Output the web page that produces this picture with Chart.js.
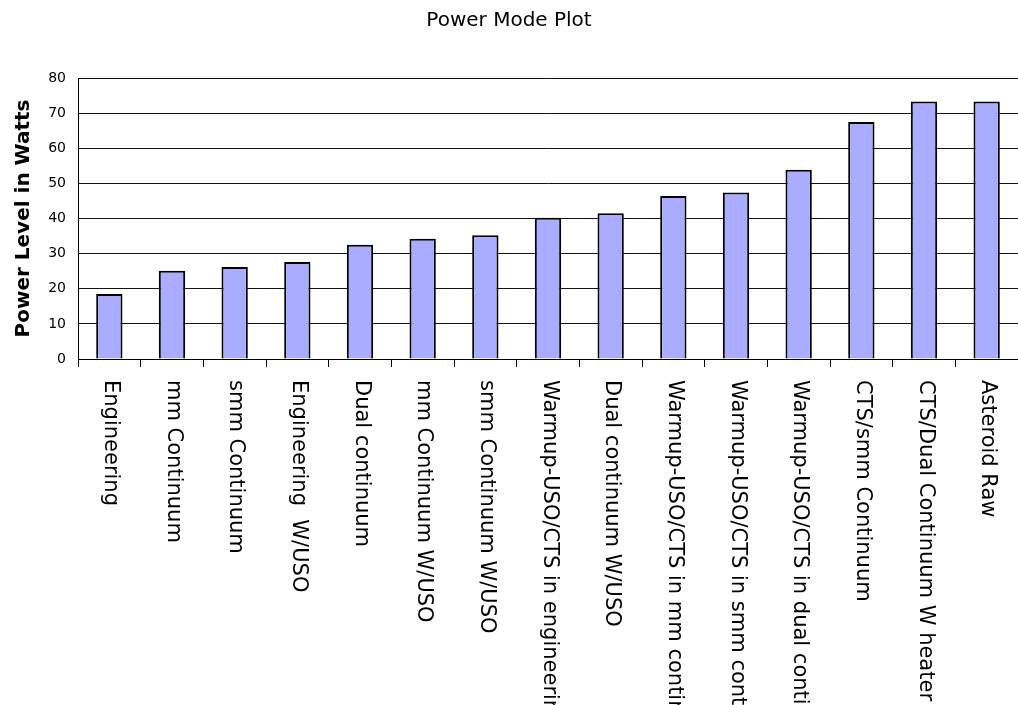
<!DOCTYPE html>
<html>
<head>
<meta charset="utf-8">
<script src="https://cdn.jsdelivr.net/npm/chart.js@4"></script>
<style>
  body { margin: 0; background: #fff; }
  #wrap { width: 1018px; height: 705px; }
</style>
</head>
<body>
<div id="wrap"><canvas id="powerChart"></canvas></div>
<script>
// data
const modes = [
  'Engineering', 'mm Continuum', 'smm Continuum', 'Engineering  W/USO',
  'Dual continuum', 'mm Continuum W/USO', 'smm Continuum W/USO',
  'Warmup-USO/CTS in engineering', 'Dual continuum W/USO',
  'Warmup-USO/CTS in mm continuum', 'Warmup-USO/CTS in smm continuum',
  'Warmup-USO/CTS in dual continuum', 'CTS/smm Continuum',
  'CTS/Dual Continuum W heater', 'Asteroid Raw'
];
const watts = [18.5, 25.1, 26.2, 27.6, 32.5, 34.2, 35.2, 40.2, 41.5, 46.4, 47.4, 53.9, 67.5, 73.3, 73.3];
const yTicks = [0, 10, 20, 30, 40, 50, 60, 70, 80];

const labelFont = '21px "DejaVu Sans", sans-serif';

// category labels run top-to-bottom under each bar
const downLabels = {
  id: 'downLabels',
  afterDraw(chart) {
    const ctx = chart.ctx;
    const xs = chart.scales.x;
    ctx.save();
    ctx.font = labelFont;
    ctx.fillStyle = '#000';
    ctx.textAlign = 'left';
    ctx.textBaseline = 'middle';
    modes.forEach((m, i) => {
      const x = xs.getPixelForValue(i);
      ctx.save();
      ctx.translate(x + 1, chart.chartArea.bottom + 21);
      ctx.rotate(Math.PI / 2);
      ctx.fillText(m, 0, 0);
      ctx.restore();
    });
    ctx.restore();
  }
};

document.addEventListener('DOMContentLoaded', () => {
  const ctx = document.getElementById('powerChart').getContext('2d');
  new Chart(ctx, {
    type: 'bar',
    data: {
      labels: modes,
      datasets: [{
        label: 'Power',
        data: watts,
        backgroundColor: '#aaadff',
        borderColor: '#000',
        borderWidth: 2,
        barPercentage: 0.42,
        categoryPercentage: 1.0,
      }],
    },
    options: {
      responsive: true,
      maintainAspectRatio: false,
      animation: false,
      layout: { padding: { left: 0, right: 0, top: 0, bottom: 338 } },
      plugins: {
        legend: { display: false },
        tooltip: { enabled: false },
        title: {
          display: true,
          text: 'Power Mode Plot',
          color: '#000',
          font: { family: 'DejaVu Sans', size: 20, weight: 'normal' },
          padding: { top: 9, bottom: 45 },
        },
      },
      scales: {
        x: {
          grid: { offset: true, drawOnChartArea: false, drawTicks: true, tickLength: 8, color: '#000' },
          border: { color: '#000', width: 1 },
          ticks: { display: false },
        },
        y: {
          min: 0,
          max: 80,
          afterBuildTicks: (s) => { s.ticks = yTicks.map(v => ({ value: v })); },
          afterFit: (s) => { s.width = 78; },
          grid: { color: '#111', drawTicks: false },
          border: { color: '#000', width: 1 },
          ticks: { color: '#000', padding: 12, font: { family: 'DejaVu Sans', size: 14 } },
          title: {
            display: true,
            text: 'Power Level in Watts',
            color: '#000',
            font: { family: 'DejaVu Sans', size: 20, weight: 'bold' },
            padding: { top: 12, bottom: 0 },
          },
        },
      },
    },
    plugins: [downLabels],
  });
});
</script>
</body>
</html>
